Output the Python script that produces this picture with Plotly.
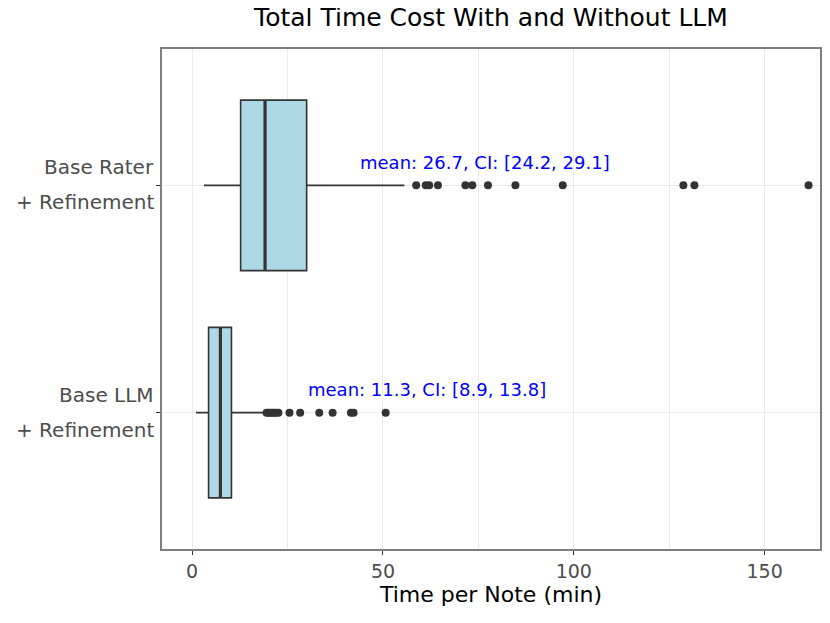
import plotly.graph_objects as go

# Box statistics (minutes per note)
groups = ["Base LLM + Refinement", "Base Rater + Refinement"]
label_top = ["Base LLM", "Base Rater"]
label_bottom = ["+ Refinement", "+ Refinement"]
lower_fence = [1.0, 3.1]
q1 = [4.3, 12.7]
median = [7.4, 19.1]
q3 = [10.3, 30.0]
upper_fence = [18.7, 55.6]

outliers_llm = [19.5, 20.0, 20.5, 21.0, 21.5, 22.0, 22.6, 25.5, 28.3, 33.3, 36.8, 41.6, 42.3, 50.7]
outliers_rater = [58.7, 61.2, 62.1, 64.4, 71.6, 73.4, 77.5, 84.7, 97.1, 128.7, 131.6, 161.5]

means = [11.3, 26.7]
ci_low = [8.9, 24.2]
ci_high = [13.8, 29.1]
label_x = [61.4, 76.7]

dark = "#333333"
box_w = 0.75

fig = go.Figure()

fig.add_trace(go.Box(
    y=groups, q1=q1, median=median, q3=q3,
    lowerfence=lower_fence, upperfence=upper_fence,
    orientation="h", width=box_w, whiskerwidth=0,
    fillcolor="#add8e6", line=dict(color=dark, width=1.6),
    boxpoints=False, showlegend=False, hoverinfo="skip",
))

for name, pts in zip(groups, [outliers_llm, outliers_rater]):
    fig.add_trace(go.Scatter(
        x=pts, y=[name] * len(pts), mode="markers",
        marker=dict(color=dark, size=8), showlegend=False,
    ))

# thicker median line like ggplot
for i, m in enumerate(median):
    fig.add_shape(type="line", xref="x", yref="y", x0=m, x1=m,
                  y0=i - box_w / 2, y1=i + box_w / 2,
                  line=dict(color=dark, width=3.2))

for i, name in enumerate(groups):
    fig.add_annotation(
        x=label_x[i], y=name, yshift=23, showarrow=False,
        text=f"mean: {means[i]}, CI: [{ci_low[i]}, {ci_high[i]}]",
        font=dict(color="blue", size=18),
    )
    fig.add_annotation(x=0, xref="paper", y=name, yshift=18, xshift=-6,
                       xanchor="right", showarrow=False, text=label_top[i],
                       font=dict(color="#4d4d4d", size=20))
    fig.add_annotation(x=0, xref="paper", y=name, yshift=-17, xshift=-6,
                       xanchor="right", showarrow=False, text=label_bottom[i],
                       font=dict(color="#4d4d4d", size=20))

# page body adds an 8px offset, so the figure is sized to fit the window
fig.update_layout(
    width=822, height=615,
    margin=dict(l=154, r=8, t=41, b=74),
    paper_bgcolor="white", plot_bgcolor="white",
    font=dict(family="DejaVu Sans", color="black"),
    title=dict(text="Total Time Cost With and Without LLM", x=0.5, xref="paper",
               y=1, yref="container", yanchor="top", pad=dict(t=0),
               font=dict(size=25, color="black")),
)

fig.update_xaxes(
    range=[-7.9, 164.5], tickvals=[0, 50, 100, 150],
    showgrid=True, gridcolor="#ebebeb", gridwidth=1.2,
    minor=dict(tickvals=[25, 75, 125], showgrid=True, gridcolor="#ebebeb", gridwidth=0.6),
    ticks="outside", ticklen=4, tickcolor=dark,
    tickfont=dict(size=19, color="#4d4d4d"),
    showline=True, linecolor="#7f7f7f", linewidth=1.6, mirror=True, zeroline=False,
    title=dict(text="Time per Note (min)", font=dict(size=22, color="black"), standoff=6),
)

fig.update_yaxes(
    type="category", categoryorder="array", categoryarray=groups,
    range=[-0.6, 1.6], showticklabels=False,
    showgrid=True, gridcolor="#ebebeb", gridwidth=1.2,
    ticks="outside", ticklen=4, tickcolor=dark,
    showline=True, linecolor="#7f7f7f", linewidth=1.6, mirror=True, zeroline=False,
)

fig.write_html("out.html")
